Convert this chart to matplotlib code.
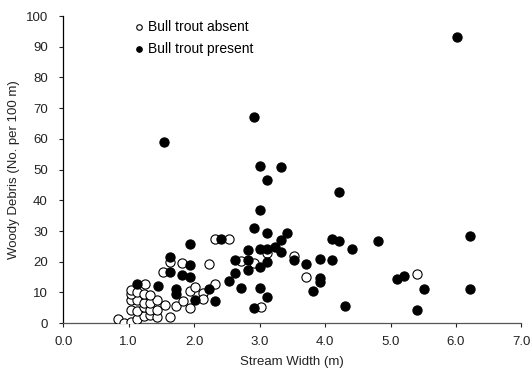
import matplotlib
matplotlib.use("Agg")
import matplotlib.pyplot as plt

plt.rcParams["font.family"] = ["Liberation Sans", "DejaVu Sans"]

# Bull trout absent (open circles)
absent_x = [0.83, 0.93, 1.03, 1.13, 1.23, 1.33, 1.43, 1.63,
            1.03, 1.13, 1.23, 1.33, 1.43,
            1.03, 1.13, 1.23, 1.33, 1.43, 1.55, 1.73, 1.93, 1.83,
            1.03, 1.03, 1.13, 1.23, 1.33, 1.25,
            1.53, 1.63, 1.82, 2.23,
            1.93, 2.02, 2.13, 2.13, 2.32,
            2.32, 2.53, 2.72, 2.92, 3.12, 3.52, 3.71, 3.02, 5.41]
absent_y = [1.3, 0.2, 0.3, 1.2, 2.3, 2.8, 2.1, 2.1,
            4.3, 3.8, 5.1, 4.3, 4.3,
            7.5, 7.5, 6.5, 6.4, 7.5, 6.0, 5.6, 4.8, 7.3,
            9.4, 10.9, 10.2, 9.5, 9.2, 12.9,
            16.5, 20.0, 19.5, 19.2,
            10.5, 11.8, 9.7, 8.0, 12.9,
            27.3, 27.3, 20.1, 19.6, 22.7, 22.0, 14.9, 5.2, 15.9]

# Bull trout present (filled circles)
present_x = [1.13, 1.45, 1.54, 1.63, 1.63, 1.73, 1.73, 1.82, 1.93, 1.93,
             1.93, 2.02, 2.23, 2.32, 2.41, 2.53, 2.62, 2.62, 2.72, 2.82,
             2.82, 2.82, 2.92, 2.92, 2.92, 3.01, 3.01, 3.01, 3.01, 3.01,
             3.12, 3.12, 3.12, 3.12, 3.12, 3.23, 3.32, 3.32, 3.32, 3.42,
             3.52, 3.71, 3.81, 3.92, 3.92, 3.92, 4.10, 4.10, 4.22, 4.22,
             4.31, 4.41, 4.81, 5.10, 5.21, 5.41, 5.51, 6.02, 6.21, 6.21]
present_y = [12.9, 12.0, 58.9, 21.6, 16.8, 11.0, 9.6, 15.6, 18.9, 15.0,
             25.7, 7.5, 11.2, 7.2, 27.3, 13.7, 20.5, 16.2, 11.5, 23.8,
             20.7, 17.3, 67.0, 31.0, 4.9, 51.2, 36.8, 24.2, 18.3, 11.5,
             46.6, 29.2, 24.2, 19.9, 8.5, 24.9, 51.0, 27.0, 23.2, 29.5,
             20.5, 19.2, 10.5, 21.0, 14.8, 13.5, 27.3, 20.5, 42.7, 26.7,
             5.6, 24.2, 26.7, 14.5, 15.2, 4.3, 11.2, 93.1, 28.4, 11.2]

x_ticks = [0, 1, 2, 3, 4, 5, 6, 7]
y_ticks = [0, 10, 20, 30, 40, 50, 60, 70, 80, 90, 100]

fig = plt.figure(figsize=(5.31, 3.74), dpi=100)
ax = fig.add_axes([0.119, 0.136, 0.863, 0.821])

ax.scatter(absent_x, absent_y, s=44, facecolors="white", edgecolors="black",
           linewidths=0.8, zorder=3, label="Bull trout absent")
ax.scatter(present_x, present_y, s=44, facecolors="black", edgecolors="black",
           linewidths=0.8, zorder=4, label="Bull trout present")

ax.set_xlim(0, 7)
ax.set_ylim(0, 100)
ax.set_xticks(x_ticks)
ax.set_xticklabels([f"{t:.1f}" for t in x_ticks])
ax.set_yticks(y_ticks)
ax.tick_params(direction="out", length=3, width=0.8, labelsize=9.5,
               colors="#222222", pad=6)
ax.tick_params(axis="y", pad=8)

for side in ("top", "right"):
    ax.spines[side].set_visible(False)
ax.spines["left"].set_color("black")
ax.spines["bottom"].set_color("#555555")
ax.spines["left"].set_linewidth(0.9)
ax.spines["bottom"].set_linewidth(0.9)

ax.set_xlabel("Stream Width (m)", fontsize=9.5, color="#222222", labelpad=6)
ax.set_ylabel("Woody Debris (No. per 100 m)", fontsize=9.5, color="#222222",
              labelpad=4)

leg = ax.legend(loc="upper left", bbox_to_anchor=(0.13, 1.02), frameon=False,
                fontsize=10, markerscale=0.6, handletextpad=0.1,
                handlelength=1.0, labelspacing=0.6, borderaxespad=0.3)

fig.savefig("out.png", dpi=100, facecolor="white")
